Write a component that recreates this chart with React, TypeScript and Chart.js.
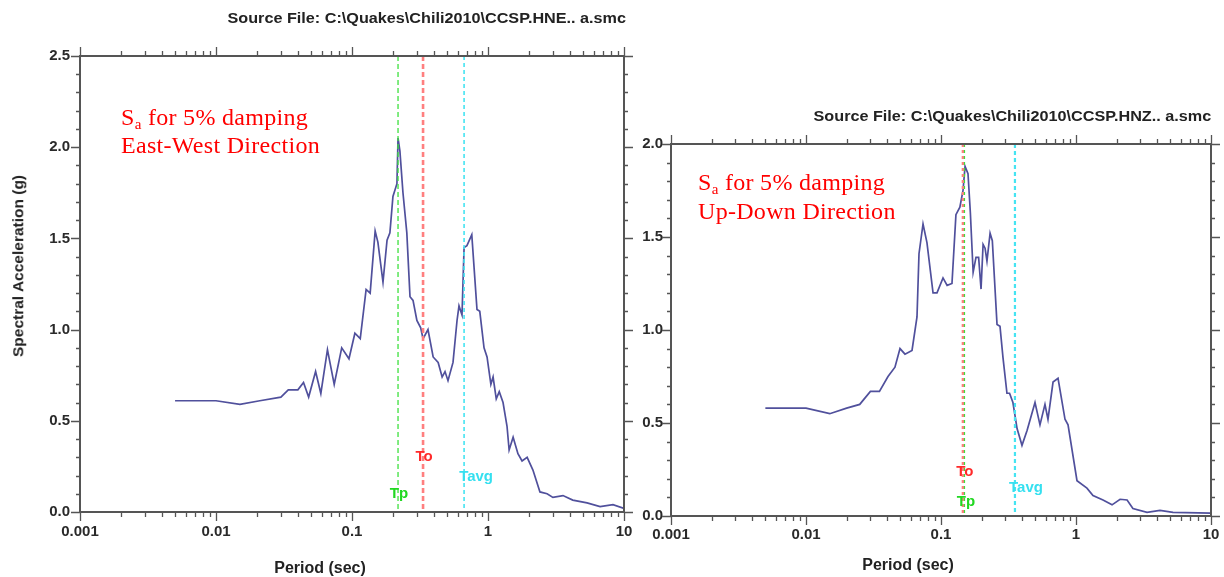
import React, { useEffect, useRef } from "react";
import { Chart, registerables } from "chart.js";

Chart.register(...registerables);

// ---------- DATA ----------
// East-West spectrum (period in s, spectral acceleration in g)
const ewPeriod = [0.005, 0.01, 0.015, 0.021, 0.03, 0.034, 0.04, 0.044, 0.048, 0.054, 0.059, 0.066, 0.074, 0.084, 0.095, 0.105, 0.115, 0.127, 0.136, 0.148, 0.155, 0.169, 0.181, 0.19, 0.2, 0.214, 0.218, 0.225, 0.237, 0.253, 0.267, 0.281, 0.3, 0.32, 0.333, 0.362, 0.395, 0.43, 0.46, 0.483, 0.508, 0.553, 0.592, 0.612, 0.644, 0.667, 0.7, 0.76, 0.79, 0.83, 0.87, 0.935, 0.984, 1.05, 1.09, 1.15, 1.21, 1.29, 1.38, 1.43, 1.53, 1.66, 1.78, 1.94, 2.14, 2.41, 2.72, 3.0, 3.56, 4.2, 5.35, 6.67, 8.3, 10];
const ewSa = [0.61, 0.61, 0.59, 0.61, 0.63, 0.67, 0.67, 0.71, 0.63, 0.77, 0.65, 0.89, 0.7, 0.9, 0.84, 0.98, 0.95, 1.22, 1.2, 1.54, 1.48, 1.26, 1.49, 1.53, 1.73, 1.8, 2.05, 1.98, 1.75, 1.53, 1.18, 1.16, 1.05, 1.01, 0.95, 1.0, 0.85, 0.82, 0.74, 0.77, 0.72, 0.82, 1.05, 1.13, 1.08, 1.45, 1.46, 1.52, 1.34, 1.11, 1.1, 0.9, 0.85, 0.7, 0.74, 0.62, 0.66, 0.6, 0.47, 0.34, 0.41, 0.32, 0.28, 0.3, 0.23, 0.11, 0.1, 0.08, 0.09, 0.065, 0.05, 0.03, 0.04, 0.02];

// Up-Down spectrum
const udPeriod = [0.005, 0.01, 0.015, 0.02, 0.025, 0.03, 0.035, 0.0405, 0.0456, 0.0497, 0.0541, 0.061, 0.0664, 0.0687, 0.0736, 0.0787, 0.0873, 0.0934, 0.1035, 0.111, 0.1206, 0.129, 0.138, 0.1456, 0.1507, 0.1585, 0.165, 0.173, 0.1816, 0.19, 0.198, 0.205, 0.212, 0.219, 0.231, 0.24, 0.26, 0.2735, 0.288, 0.308, 0.322, 0.341, 0.366, 0.398, 0.434, 0.497, 0.541, 0.589, 0.62, 0.676, 0.736, 0.829, 0.873, 1.017, 1.205, 1.336, 1.585, 1.849, 2.12, 2.39, 2.64, 3.36, 4.19, 5.23, 10];
const udSa = [0.58, 0.58, 0.55, 0.58, 0.6, 0.67, 0.67, 0.75, 0.8, 0.9, 0.87, 0.89, 1.07, 1.41, 1.57, 1.47, 1.2, 1.2, 1.28, 1.24, 1.25, 1.62, 1.66, 1.75, 1.88, 1.84, 1.63, 1.31, 1.39, 1.39, 1.22, 1.46, 1.44, 1.37, 1.52, 1.48, 1.03, 1.02, 0.85, 0.66, 0.66, 0.61, 0.47, 0.38, 0.46, 0.61, 0.49, 0.6, 0.52, 0.72, 0.74, 0.52, 0.49, 0.19, 0.15, 0.11, 0.086, 0.06, 0.09, 0.086, 0.04, 0.02, 0.03, 0.02, 0.015];

// Characteristic periods (s) and the Sa height at which their labels sit
const markerNames = ["Tp", "To", "Tavg"];
const ewMarkerPeriods = [0.218, 0.333, 0.667];
const ewMarkerLabelSa = [0.1, 0.3, 0.19];
const udMarkerPeriods = [0.148, 0.145, 0.353];
const udMarkerLabelSa = [0.075, 0.24, 0.15];

const xDecades = [0.001, 0.01, 0.1, 1, 10];
const ewYMax = 2.5;
const udYMax = 2.0;

// ---------- STYLE ----------
const markerColors = ["#3ee03e", "#ff7f7f", "#45e4f2"];
const markerLabelColors = ["#22d822", "#ff2a2a", "#35e0f0"];
const curveColor = "#50509c";
const axisColor = "#555";
const tickFont = { family: "Arial, 'Liberation Sans', sans-serif", size: 15, weight: "bold" as const };

function buildLogTicks() {
  const out: { value: number; major: boolean }[] = [];
  for (let i = 0; i < xDecades.length - 1; i++) {
    for (let k = 1; k <= 9; k++) {
      out.push({ value: Number((k * xDecades[i]).toPrecision(3)), major: k === 1 });
    }
  }
  out.push({ value: xDecades[xDecades.length - 1], major: true });
  return out;
}

function buildLinTicks(max: number) {
  const out: { value: number; major: boolean }[] = [];
  const n = Math.round(max / 0.1);
  for (let i = 0; i <= n; i++) {
    const v = Number((i * 0.1).toFixed(1));
    out.push({ value: v, major: Math.abs(v / 0.5 - Math.round(v / 0.5)) < 1e-6 });
  }
  return out;
}

const frameTicksPlugin = {
  id: "frameTicks",
  afterDraw(chart: any) {
    const ctx = chart.ctx;
    const a = chart.chartArea;
    ctx.save();
    ctx.strokeStyle = axisColor;
    ctx.lineWidth = 1.3;
    const xs = chart.scales.x;
    const ys = chart.scales.y;
    ctx.beginPath();
    for (const t of buildLogTicks()) {
      const px = Math.round(xs.getPixelForValue(t.value)) + 0.5;
      const len = t.major ? 9 : 5;
      ctx.moveTo(px, a.bottom);
      ctx.lineTo(px, a.bottom + len);
      ctx.moveTo(px, a.top);
      ctx.lineTo(px, a.top - len);
    }
    for (const t of buildLinTicks(ys.max)) {
      const py = Math.round(ys.getPixelForValue(t.value)) + 0.5;
      const len = t.major ? 9 : 4;
      ctx.moveTo(a.left, py);
      ctx.lineTo(a.left - len, py);
      ctx.moveTo(a.right, py);
      ctx.lineTo(a.right + len, py);
    }
    ctx.stroke();
    ctx.strokeStyle = axisColor;
    ctx.lineWidth = 2;
    ctx.strokeRect(a.left, a.top, a.right - a.left, a.bottom - a.top);
    ctx.restore();
  },
};

const markersPlugin = {
  id: "periodMarkers",
  afterDatasetsDraw(chart: any, _args: any, opts: any) {
    const ctx = chart.ctx;
    const a = chart.chartArea;
    const xs = chart.scales.x;
    const ys = chart.scales.y;
    const periods: number[] = opts.periods;
    const labelSa: number[] = opts.labelSa;
    ctx.save();
    periods.forEach((p, i) => {
      const px = xs.getPixelForValue(p);
      ctx.strokeStyle = markerColors[i];
      ctx.lineWidth = opts.widths[i];
      ctx.setLineDash(opts.dashes[i]);
      ctx.beginPath();
      ctx.moveTo(px, a.top);
      ctx.lineTo(px, a.bottom);
      ctx.stroke();
    });
    ctx.setLineDash([]);
    ctx.font = "bold 15px Arial, 'Liberation Sans', sans-serif";
    ctx.textBaseline = "middle";
    ctx.textAlign = "center";
    periods.forEach((p, i) => {
      const px = xs.getPixelForValue(p) + opts.labelDx[i];
      const py = ys.getPixelForValue(labelSa[i]);
      ctx.fillStyle = markerLabelColors[i];
      ctx.fillText(markerNames[i], px, py);
    });
    ctx.restore();
  },
};

function makeConfig(periods: number[], sa: number[], yMax: number, dims: any, markerOpts: any) {
  const logTicks = buildLogTicks();
  const linTicks = buildLinTicks(yMax);
  return {
    type: "line" as const,
    data: {
      datasets: [
        {
          data: periods.map((p, i) => ({ x: p, y: sa[i] })),
          borderColor: curveColor,
          borderWidth: 1.7,
          pointRadius: 0,
          tension: 0,
          fill: false,
        },
      ],
    },
    options: {
      responsive: false,
      animation: false as const,
      events: [],
      layout: { padding: 0 },
      plugins: {
        legend: { display: false },
        tooltip: { enabled: false },
        periodMarkers: markerOpts,
      },
      scales: {
        x: {
          type: "logarithmic" as const,
          position: "bottom" as const,
          min: 0.001,
          max: 10,
          afterBuildTicks: (s: any) => {
            s.ticks = logTicks.map((t) => ({ ...t }));
          },
          afterFit: (s: any) => {
            s.height = dims.bottom;
          },
          grid: { display: false },
          border: { display: false },
          ticks: {
            autoSkip: false,
            maxRotation: 0,
            padding: dims.xPad,
            color: "#2a2a2a",
            font: tickFont,
            callback: (v: any) => (xDecades.includes(Number(v)) ? String(Number(v)) : ""),
          },
        },
        x2: {
          type: "logarithmic" as const,
          position: "top" as const,
          min: 0.001,
          max: 10,
          afterFit: (s: any) => {
            s.height = dims.top;
          },
          grid: { display: false },
          border: { display: false },
          ticks: { display: false },
        },
        y: {
          type: "linear" as const,
          position: "left" as const,
          min: 0,
          max: yMax,
          afterBuildTicks: (s: any) => {
            s.ticks = linTicks.map((t) => ({ ...t }));
          },
          afterFit: (s: any) => {
            s.width = dims.left;
          },
          grid: { display: false },
          border: { display: false },
          ticks: {
            autoSkip: false,
            padding: dims.yPad,
            color: "#2a2a2a",
            font: tickFont,
            callback: (v: any) => {
              const n = Number(v);
              return Math.abs(n / 0.5 - Math.round(n / 0.5)) < 1e-6 ? n.toFixed(1) : "";
            },
          },
        },
        y2: {
          type: "linear" as const,
          position: "right" as const,
          min: 0,
          max: yMax,
          afterFit: (s: any) => {
            s.width = dims.right;
          },
          grid: { display: false },
          border: { display: false },
          ticks: { display: false },
        },
      },
    },
    plugins: [frameTicksPlugin, markersPlugin],
  };
}

function ChartCanvas(props: { config: any; left: number; width: number; height: number }) {
  const ref = useRef<HTMLCanvasElement | null>(null);
  useEffect(() => {
    if (!ref.current) return;
    const chart = new Chart(ref.current, props.config);
    return () => chart.destroy();
  }, []);
  return (
    <canvas
      ref={ref}
      width={props.width}
      height={props.height}
      style={{ position: "absolute", left: props.left, top: 0, width: props.width, height: props.height, background: "#fff" }}
    />
  );
}

const sans = "Arial, 'Liberation Sans', sans-serif";
const serif = "'Times New Roman', 'Liberation Serif', serif";

function Txt(props: { style: React.CSSProperties; children: React.ReactNode }) {
  return <div style={{ position: "absolute", whiteSpace: "nowrap", lineHeight: 1, ...props.style }}>{props.children}</div>;
}

export default function App() {
  const ewConfig = makeConfig(ewPeriod, ewSa, ewYMax, { left: 80, right: 16, top: 56, bottom: 65, yPad: 2, xPad: 3 }, {
    periods: ewMarkerPeriods,
    labelSa: ewMarkerLabelSa,
    widths: [1.3, 2.6, 1.6],
    dashes: [[5, 3], [5, 3], [4, 3]],
    labelDx: [1, 1, 12],
  });
  const udConfig = makeConfig(udPeriod, udSa, udYMax, { left: 37, right: 13, top: 144, bottom: 61, yPad: 0, xPad: 2 }, {
    periods: udMarkerPeriods,
    labelSa: udMarkerLabelSa,
    widths: [2.2, 2.2, 2.2],
    dashes: [[3, 3], [3, 3], [4, 3]],
    labelDx: [2, 2, 11],
  });

  const redText: React.CSSProperties = { color: "#ff0000", fontFamily: serif, fontSize: 24, letterSpacing: 0.3 };
  const titleStyle: React.CSSProperties = {
    fontFamily: sans,
    fontWeight: "bold",
    fontSize: 15,
    color: "#222",
    transform: "scaleX(1.08)",
    transformOrigin: "right center",
  };

  return (
    <div style={{ position: "fixed", left: 0, top: 0, width: 1224, height: 577, background: "#fff", overflow: "hidden" }}>
      <ChartCanvas config={ewConfig} left={0} width={640} height={577} />
      <ChartCanvas config={udConfig} left={634} width={590} height={577} />

      {/* Left chart texts */}
      <Txt style={{ right: 1224 - 626, top: 10, ...titleStyle }}>
        Source File: C:\Quakes\Chili2010\CCSP.HNE.. a.smc
      </Txt>
      <Txt style={{ left: 320, top: 560, transform: "translateX(-50%)", fontFamily: sans, fontWeight: "bold", fontSize: 16, color: "#222" }}>
        Period (sec)
      </Txt>
      <Txt style={{ left: 18, top: 266, transform: "translate(-50%,-50%) rotate(-90deg)", fontFamily: sans, fontWeight: "bold", fontSize: 15.5, color: "#222" }}>
        Spectral Acceleration (g)
      </Txt>
      <Txt style={{ left: 121, top: 105, ...redText }}>
        S<sub style={{ fontSize: 15, verticalAlign: "-4px" }}>a</sub> for 5% damping
      </Txt>
      <Txt style={{ left: 121, top: 133, ...redText }}>East-West Direction</Txt>

      {/* Right chart texts */}
      <Txt style={{ right: 1224 - 1211, top: 108, ...titleStyle }}>
        Source File: C:\Quakes\Chili2010\CCSP.HNZ.. a.smc
      </Txt>
      <Txt style={{ left: 908, top: 557, transform: "translateX(-50%)", fontFamily: sans, fontWeight: "bold", fontSize: 16, color: "#222" }}>
        Period (sec)
      </Txt>
      <Txt style={{ left: 698, top: 170, ...redText }}>
        S<sub style={{ fontSize: 15, verticalAlign: "-4px" }}>a</sub> for 5% damping
      </Txt>
      <Txt style={{ left: 698, top: 199, ...redText }}>Up-Down Direction</Txt>
    </div>
  );
}
